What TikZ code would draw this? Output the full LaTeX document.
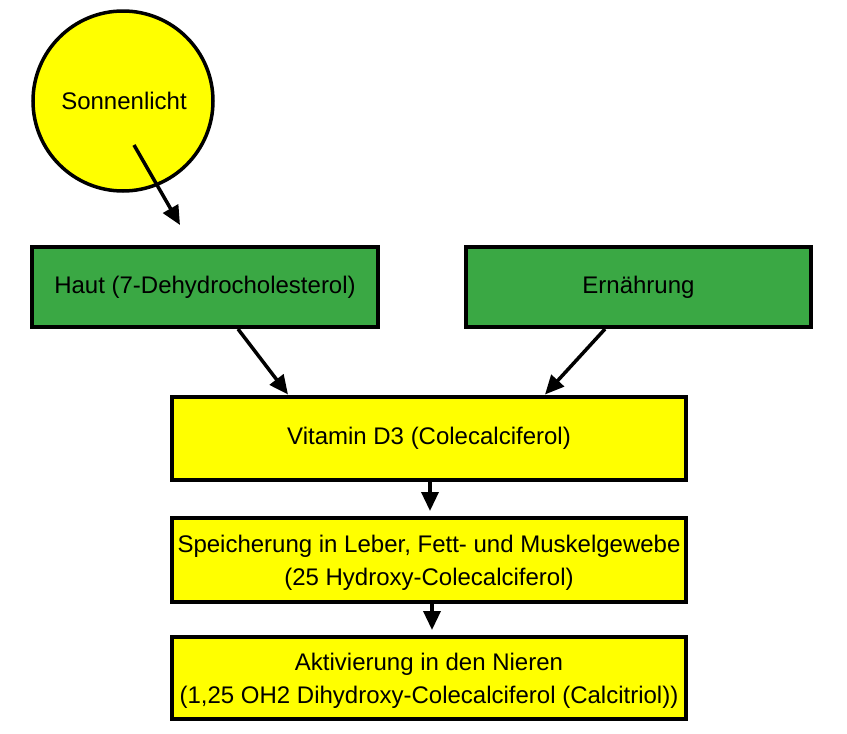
\documentclass[tikz,border=0pt]{standalone}
\usepackage{fontspec}
\setmainfont{Liberation Sans}
\usetikzlibrary{arrows.meta}
\definecolor{boxgreen}{RGB}{58,168,68}
\definecolor{boxyellow}{RGB}{255,255,0}
\begin{document}
\begin{tikzpicture}[x=1pt,y=-1pt,
  every node/.style={font=\fontsize{24}{33}\selectfont, text=black},
  gbox/.style={draw=black, line width=4pt, fill=boxgreen, rectangle, inner sep=0pt, align=center},
  ybox/.style={draw=black, line width=4pt, fill=boxyellow, rectangle, inner sep=0pt, align=center},
  arr/.style={line width=3.5pt, -{Triangle[length=19pt,width=17pt]}}]
\useasboundingbox[fill=white] (0,0) rectangle (847,734);
\node[circle, draw=black, line width=3.5pt, fill=boxyellow, minimum size=180pt, inner sep=0pt] (sun) at (123,101) {};
\node (suntext) at (124,101) {Sonnenlicht};
\node[gbox, minimum width=346pt, minimum height=80pt] (haut) at (205,287) {Haut (7-Dehydrocholesterol)};
\node[gbox, minimum width=345pt, minimum height=80pt] (ern) at (638.5,287) {Ernährung};
\node[ybox, minimum width=514pt, minimum height=83pt] (vit) at (429,438) {Vitamin D3 (Colecalciferol)};
\node[ybox, minimum width=514pt, minimum height=84pt, text depth=0pt] (spei) at (429,560) {Speicherung in Leber, Fett- und Muskelgewebe\\(25 Hydroxy-Colecalciferol)};
\node[ybox, minimum width=514pt, minimum height=82pt, text depth=0pt] (akt) at (429,678) {Aktivierung in den Nieren\\(1,25 OH2 Dihydroxy-Colecalciferol (Calcitriol))};
\coordinate (s1) at (134,145);
\coordinate (s2) at (180,225);
\draw[arr] (s1) -- (s2);
\draw[arr] (haut.south -| 238,0) -- (vit.north -| 288,0);
\draw[arr] (ern.south -| 605,0) -- (vit.north -| 545,0);
\draw[arr, shorten >=5pt] (vit.south -| 430,0) -- (spei.north -| 430,0);
\draw[arr, shorten >=5pt] (spei.south -| 432,0) -- (akt.north -| 432,0);
\end{tikzpicture}
\end{document}
